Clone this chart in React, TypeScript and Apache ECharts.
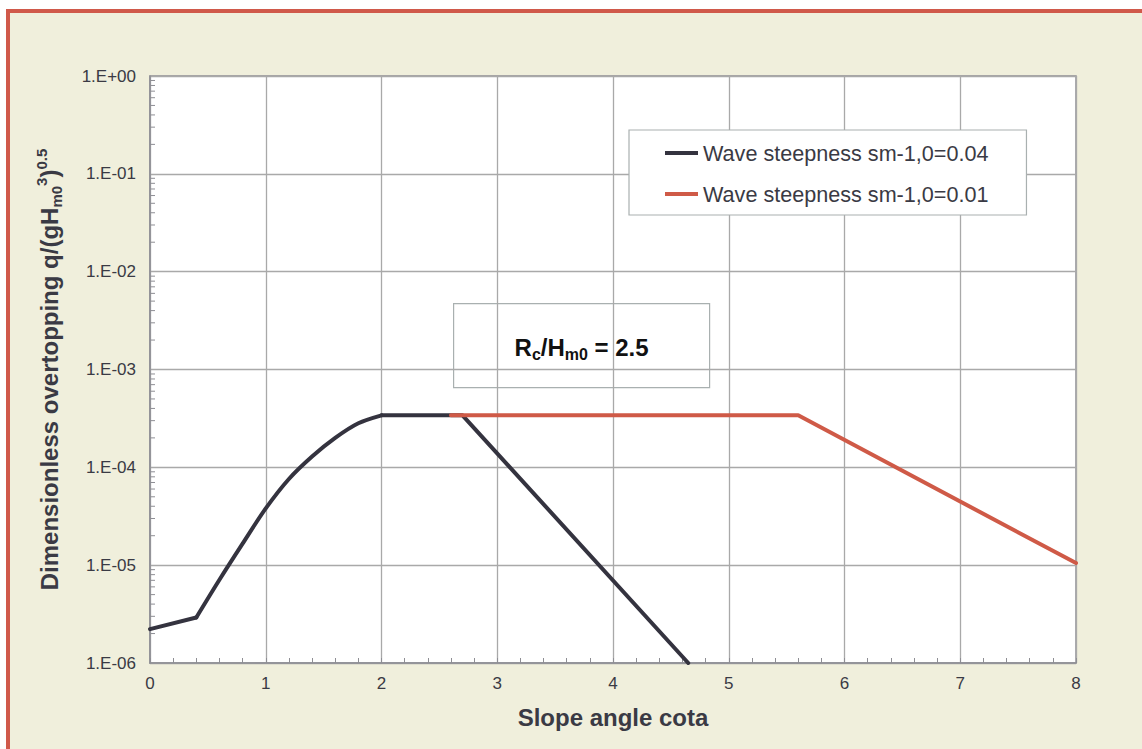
import { useEffect, useRef } from 'react';
import * as echarts from 'echarts';

// Slope angle cota (x) and dimensionless overtopping (y)
const steep004RampX = [0, 0.4];
const steep004RampQ = [2.22e-6, 2.92e-6];
const steep004RiseX = [0.4, 0.6, 0.8, 1.0, 1.2, 1.4, 1.6, 1.8, 2.0];
const steep004RiseQ = [2.92e-6, 7.1e-6, 1.66e-5, 3.8e-5, 7.6e-5, 1.29e-4, 2.0e-4, 2.82e-4, 3.4e-4];
const steep004FallX = [2.0, 2.7, 4.65];
const steep004FallQ = [3.4e-4, 3.4e-4, 1.0e-6];
const steep001X = [2.6, 5.6, 8];
const steep001Q = [3.4e-4, 3.4e-4, 1.05e-5];
const seriesNames = ['Wave steepness sm-1,0=0.04', 'Wave steepness sm-1,0=0.01'];
const seriesColors = ['#34333f', '#cf5a47'];
const yDecadeExponents = [-6, -5, -4, -3, -2, -1, 0];
const minorMantissas = [2, 3, 4, 5, 6, 7, 8, 9];

const TEXT = '#3a3a44';
const FONT = '"Liberation Sans", Arial, Helvetica, sans-serif';
const GRID_GRAY = '#a9a9a9';
const AXIS_GRAY = '#8e8e94';

function fmtExp(v: number): string {
  const e = Math.round(Math.log10(v));
  return '1.E' + (e < 0 ? '-' : '+') + String(Math.abs(e)).padStart(2, '0');
}

function pairs(xs: number[], ys: number[]): number[][] {
  return xs.map((x, i) => [x, ys[i]]);
}

export default function App() {
  const ref = useRef<HTMLDivElement>(null);

  useEffect(() => {
    document.body.style.margin = '0';
    if (!ref.current) return;
    const chart = echarts.init(ref.current, null, { renderer: 'svg' });

    const minorTickData: number[][] = [];
    yDecadeExponents.slice(0, -1).forEach((e) => {
      minorMantissas.forEach((m) => minorTickData.push([0, m * Math.pow(10, e)]));
    });

    const lineBase = (name: string, color: string, data: number[][], extra: any = {}) => ({
      name,
      type: 'line',
      data,
      showSymbol: false,
      symbol: 'none',
      color,
      lineStyle: { color, width: 4, cap: 'round', join: 'round' },
      z: 3,
      ...extra,
    });

    const option: any = {
      animation: false,
      backgroundColor: 'transparent',
      textStyle: { fontFamily: FONT },
      grid: {
        left: 150,
        top: 76,
        right: 66,
        bottom: 86,
        show: true,
        backgroundColor: '#ffffff',
        borderColor: AXIS_GRAY,
        borderWidth: 1.5,
      },
      legend: {
        data: seriesNames,
        orient: 'vertical',
        left: 629,
        top: 130,
        backgroundColor: '#ffffff',
        borderColor: '#a9b0b0',
        borderWidth: 1.2,
        padding: [12, 38, 10, 36],
        itemWidth: 33,
        itemHeight: 4,
        itemGap: 19,
        itemTextGap: 4,
        icon: 'rect',
        textStyle: { fontSize: 21.6, color: TEXT, fontFamily: FONT },
      },
      xAxis: {
        type: 'value',
        min: 0,
        max: 8,
        interval: 1,
        name: 'Slope angle cota',
        nameLocation: 'middle',
        nameGap: 42,
        nameTextStyle: { fontSize: 24, fontWeight: 'bold', color: TEXT, fontFamily: FONT },
        axisLine: { show: true, lineStyle: { color: AXIS_GRAY, width: 1.5 } },
        axisTick: { show: true, inside: true, length: 5, lineStyle: { color: AXIS_GRAY } },
        minorTick: { show: true, splitNumber: 5, length: 5, lineStyle: { color: AXIS_GRAY } },
        splitLine: { show: true, lineStyle: { color: GRID_GRAY, width: 1.3 } },
        axisLabel: { fontSize: 17, color: TEXT, margin: 12, fontFamily: FONT },
      },
      yAxis: {
        type: 'log',
        logBase: 10,
        min: 1e-6,
        max: 1,
        interval: 1,
        name: '{n|Dimensionless overtopping q/(gH}{s|m0}{p|3}{n|)}{p|0.5}',
        nameLocation: 'middle',
        nameRotate: 90,
        nameGap: 86,
        nameTextStyle: {
          fontSize: 24,
          fontWeight: 'bold',
          color: TEXT,
          fontFamily: FONT,
          rich: {
            n: { fontSize: 24, fontWeight: 'bold', color: TEXT, fontFamily: FONT, lineHeight: 30, verticalAlign: 'middle' },
            s: { fontSize: 15, fontWeight: 'bold', color: TEXT, fontFamily: FONT, lineHeight: 12, verticalAlign: 'bottom' },
            p: { fontSize: 15, fontWeight: 'bold', color: TEXT, fontFamily: FONT, lineHeight: 12, verticalAlign: 'top' },
          },
        },
        axisLine: { show: true, lineStyle: { color: AXIS_GRAY, width: 1.5 } },
        axisTick: { show: false },
        splitLine: { show: true, lineStyle: { color: GRID_GRAY, width: 1.3 } },
        axisLabel: { fontSize: 17, color: TEXT, margin: 14, fontFamily: FONT, formatter: fmtExp },
      },
      graphic: [
        {
          type: 'group',
          left: 453,
          top: 303,
          children: [
            {
              type: 'rect',
              shape: { x: 0, y: 0, width: 256, height: 84 },
              style: { fill: '#ffffff', stroke: '#a9b0b0', lineWidth: 1.2 },
            },
            {
              type: 'text',
              x: 128,
              y: 44,
              style: {
                text: '{b|R}{s|c}{b|/H}{s|m0}{b| = 2.5}',
                align: 'center',
                verticalAlign: 'middle',
                rich: {
                  b: { fontSize: 24, fontWeight: 'bold', fill: '#111', fontFamily: FONT, lineHeight: 30 },
                  s: { fontSize: 16, fontWeight: 'bold', fill: '#111', fontFamily: FONT, lineHeight: 12, verticalAlign: 'bottom' },
                },
              },
            },
          ],
        },
      ],
      series: [
        lineBase(seriesNames[0], seriesColors[0], pairs(steep004RampX, steep004RampQ)),
        lineBase(seriesNames[0], seriesColors[0], pairs(steep004RiseX, steep004RiseQ), { smooth: 0.3 }),
        lineBase(seriesNames[0], seriesColors[0], pairs(steep004FallX, steep004FallQ)),
        lineBase(seriesNames[1], seriesColors[1], pairs(steep001X, steep001Q), { z: 4 }),
        {
          name: 'yMinorTicks',
          type: 'custom',
          silent: true,
          data: minorTickData,
          renderItem: (_params: any, api: any) => {
            const p = api.coord([api.value(0), api.value(1)]);
            return {
              type: 'line',
              shape: { x1: p[0], y1: p[1], x2: p[0] + 5, y2: p[1] },
              style: { stroke: AXIS_GRAY, lineWidth: 1 },
            };
          },
          z: 2,
        },
      ],
    };

    chart.setOption(option);
    return () => chart.dispose();
  }, []);

  return (
    <div style={{ position: 'relative', width: 1142, height: 749, overflow: 'hidden', background: '#ffffff' }}>
      <div
        style={{
          position: 'absolute',
          left: 6,
          top: 9,
          width: 1160,
          height: 760,
          background: '#f0efdc',
          borderLeft: '4px solid #d0594a',
          borderTop: '4px solid #d0594a',
        }}
      />
      <div ref={ref} style={{ position: 'absolute', left: 0, top: 0, width: 1142, height: 749 }} />
    </div>
  );
}
